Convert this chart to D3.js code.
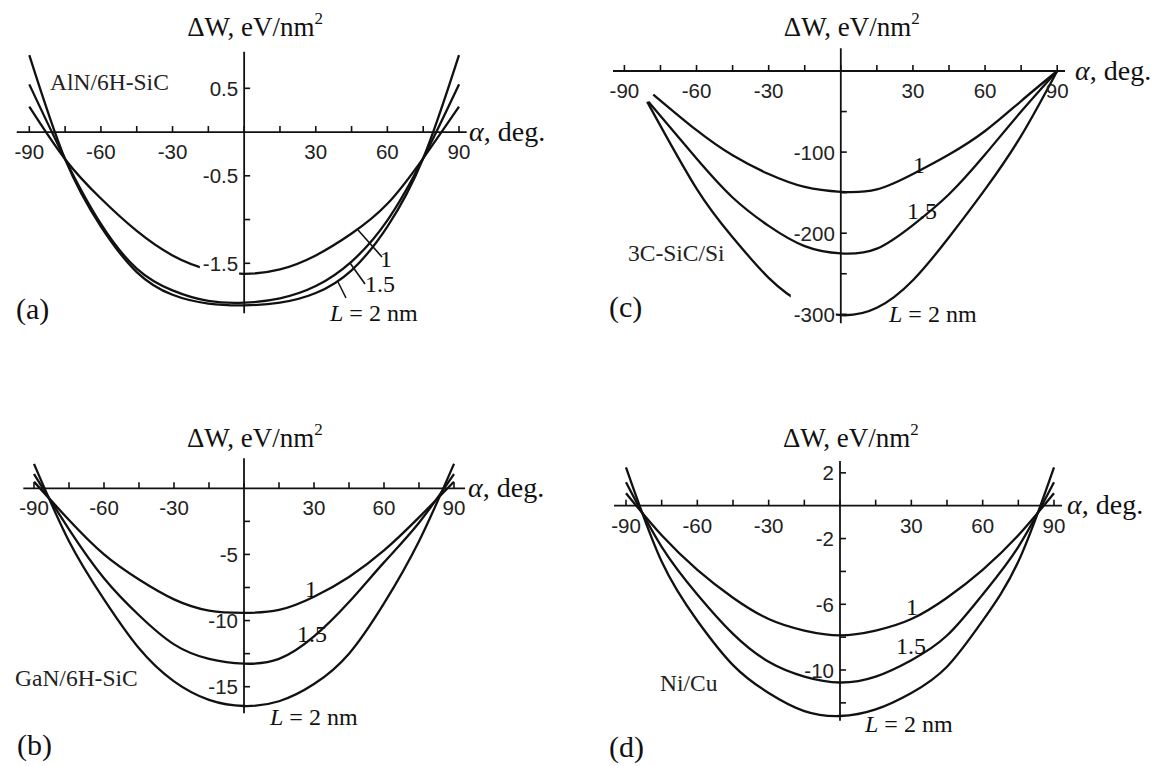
<!DOCTYPE html>
<html><head><meta charset="utf-8">
<script src="https://cdn.jsdelivr.net/npm/d3@7"></script>
<style>
body{margin:0;background:#fff}
svg{display:block}
</style></head><body>
<svg id="chart" width="1160" height="766"></svg>
<script>
// ---------------- data ----------------
const alpha = [-90,-75,-60,-45,-30,-15,0,15,30,45,60,75,90];
const xTickValues = [-90,-75,-60,-45,-30,-15,0,15,30,45,60,75,90];
const xTickLabels = [-90,-60,-30,30,60,90];

// (a) AlN/6H-SiC
const aL1  = [0.29,-0.31,-0.76,-1.13,-1.41,-1.57,-1.62,-1.57,-1.41,-1.16,-0.82,-0.30,0.29];
const aL15 = [0.545,-0.31,-1.05,-1.56,-1.81,-1.93,-1.95,-1.90,-1.76,-1.48,-1.01,-0.30,0.545];
const aL2  = [0.88,-0.31,-1.08,-1.60,-1.86,-1.96,-1.98,-1.95,-1.84,-1.58,-1.08,-0.30,0.88];
const aYTicks  = [0.5,-0.5,-1,-1.5];
const aYLabels = [0.5,-0.5,-1.5];

// (b) GaN/6H-SiC
const bL1  = [0.5,-2.4,-5.0,-6.9,-8.4,-9.25,-9.42,-9.2,-8.2,-6.7,-4.7,-2.2,0.5];
const bL15 = [1.08,-3.1,-6.8,-9.6,-11.8,-12.9,-13.26,-12.9,-11.2,-8.6,-5.6,-2.6,1.08];
const bL2  = [1.85,-4.0,-8.4,-12.1,-14.6,-16.0,-16.46,-16.1,-14.8,-12.5,-8.7,-4.0,1.85];
const bYTicks  = [-2.5,-5,-7.5,-10,-12.5,-15];
const bYLabels = [-5,-10,-15];

// (c) 3C-SiC/Si
const cA1  = [-78,-60,-45,-30,-15,0,15,30,45,60,75,90];
const cL1  = [-29,-73,-104,-127,-143,-149,-146,-127,-103,-74,-37,0];
const cA15 = [-80,-60,-45,-30,-15,0,15,30,45,60,75,90];
const cL15 = [-38,-108,-156,-191,-216,-225,-219,-190,-152,-103,-50,0];
const cA2  = [-80.5,-60,-45,-30,-15,0,15,30,45,60,75,90];
const cL2  = [-38,-145,-205,-255,-288,-301,-292,-258,-205,-146,-80,0];
const cYTicks  = [-50,-100,-150,-200,-250,-300];
const cYLabels = [-100,-200,-300];

// (d) Ni/Cu
const dL1  = [0.76,-1.8,-3.9,-5.6,-6.9,-7.6,-7.89,-7.6,-6.9,-5.6,-3.9,-1.8,0.76];
const dL15 = [1.43,-2.5,-5.4,-7.8,-9.5,-10.4,-10.76,-10.4,-9.4,-7.9,-5.4,-2.5,1.43];
const dL2  = [2.33,-3.4,-7.0,-9.7,-11.4,-12.5,-12.8,-12.4,-11.4,-9.8,-7.0,-3.4,2.33];
const dYTicks  = [2,-2,-4,-6,-8,-10,-12];
const dYLabels = [2,-2,-6,-10];

// ---------------- layout ----------------
const SERIF = "'Liberation Serif','Times New Roman',serif";
const SANS  = "'Liberation Sans',Arial,Helvetica,sans-serif";

const panels = [
  { letter:"(a)", material:"AlN/6H-SiC",
    series:[[alpha,aL1],[alpha,aL15],[alpha,aL2]],
    yTicks:aYTicks, yLabels:aYLabels, bgLabels:[-1.5],
    xRange:[29.3,459], yDomain:[0.5,-1.5], yRange:[88.3,263.3],
    xAxisExt:[16.7,466.7], yAxisExt:[51.7,313.3],
    titleY:36, alphaLbl:[469,141], matPos:[50,90], letterPos:[16,319],
    lbl1:[380,267], lbl15:[365,292], lblL:[330,321],
    leaders:[[358,230,382,257],[350,263,365,284],[338,282,346,298]] },
  { letter:"(b)", material:"GaN/6H-SiC",
    series:[[alpha,bL1],[alpha,bL15],[alpha,bL2]],
    yTicks:bYTicks, yLabels:bYLabels, bgLabels:[],
    xRange:[34,454], yDomain:[0,-15], yRange:[488.3,686.7],
    xAxisExt:[23.3,465], yAxisExt:[458.3,713.3],
    titleY:446.7, alphaLbl:[468,497], matPos:[15,686], letterPos:[17,755],
    lbl1:[305,597], lbl15:[297,642], lblL:[270,725], leaders:[] },
  { letter:"(c)", material:"3C-SiC/Si",
    series:[[cA1,cL1],[cA15,cL15],[cA2,cL2]],
    yTicks:cYTicks, yLabels:cYLabels, bgLabels:[-300],
    xRange:[624.4,1057.2], yDomain:[0,-300], yRange:[71,314.3],
    xAxisExt:[613,1065], yAxisExt:[48.3,323.3],
    titleY:36, alphaLbl:[1075,80], matPos:[628,261], letterPos:[609,317],
    lbl1:[913,173], lbl15:[907,219], lblL:[889,322], leaders:[] },
  { letter:"(d)", material:"Ni/Cu",
    series:[[alpha,dL1],[alpha,dL15],[alpha,dL2]],
    yTicks:dYTicks, yLabels:dYLabels, bgLabels:[],
    xRange:[626,1054], yDomain:[0,-10], yRange:[505.7,670],
    xAxisExt:[614,1062], yAxisExt:[461,720.7],
    titleY:446.7, alphaLbl:[1067,514], matPos:[660,691], letterPos:[609,757],
    lbl1:[906,615], lbl15:[896,654], lblL:[865,732], leaders:[] }
];

const svg = d3.select("#chart");
svg.append("rect").attr("width",1160).attr("height",766).attr("fill","#fff");

panels.forEach(p => {
  const g = svg.append("g");
  const x = d3.scaleLinear().domain([-90,90]).range(p.xRange);
  const y = d3.scaleLinear().domain(p.yDomain).range(p.yRange);
  const x0 = x(0), y0 = y(0);

  // curves
  const line = d3.line().x(d=>x(d[0])).y(d=>y(d[1])).curve(d3.curveNatural);
  p.series.forEach(([as,vs]) => {
    g.append("path").datum(as.map((a,i)=>[a,vs[i]]))
      .attr("d",line).attr("fill","none").attr("stroke","#111")
      .attr("stroke-width",2.3).attr("stroke-linejoin","round");
  });

  // axes lines
  g.append("line").attr("x1",p.xAxisExt[0]).attr("x2",p.xAxisExt[1])
    .attr("y1",y0).attr("y2",y0).attr("stroke","#111").attr("stroke-width",1.8);
  g.append("line").attr("x1",x0).attr("x2",x0)
    .attr("y1",p.yAxisExt[0]).attr("y2",p.yAxisExt[1]).attr("stroke","#111").attr("stroke-width",1.8);

  // x ticks (above axis)
  g.selectAll(null).data(xTickValues).enter().append("line")
    .attr("x1",d=>x(d)).attr("x2",d=>x(d)).attr("y1",y0).attr("y2",y0-6)
    .attr("stroke","#111").attr("stroke-width",1.6);
  g.selectAll(null).data(xTickLabels).enter().append("text")
    .attr("x",d=>x(d)).attr("y",y0+27).attr("text-anchor","middle")
    .attr("font-family",SANS).attr("font-size",20.5).attr("fill","#222")
    .text(d=>String(d));

  // y ticks (right of axis)
  g.selectAll(null).data(p.yTicks).enter().append("line")
    .attr("x1",x0).attr("x2",x0+6).attr("y1",d=>y(d)).attr("y2",d=>y(d))
    .attr("stroke","#111").attr("stroke-width",1.6);
  p.yLabels.forEach(v => {
    const t = g.append("text").attr("x",x0-6).attr("y",y(v)+7.5)
      .attr("text-anchor","end").attr("font-family",SANS).attr("font-size",20.5)
      .attr("fill","#222").text(String(v));
    if (p.bgLabels.includes(v)) {
      const bb = t.node().getBBox();
      g.insert("rect", function(){ return t.node(); })
        .attr("x",bb.x-3).attr("y",bb.y-8).attr("width",bb.width+4).attr("height",bb.height+10)
        .attr("fill","#fff");
    }
  });

  // title
  const title = g.append("text").attr("x",x0-57).attr("y",p.titleY)
    .attr("font-family",SERIF).attr("font-size",27).attr("fill","#111");
  title.append("tspan").text("\u0394W, eV/nm");
  title.append("tspan").attr("dy",-12).attr("font-size",17).text("2");

  // alpha label
  const al = g.append("text").attr("x",p.alphaLbl[0]).attr("y",p.alphaLbl[1])
    .attr("font-family",SERIF).attr("font-size",28).attr("fill","#111");
  al.append("tspan").attr("font-style","italic").text("\u03B1");
  al.append("tspan").text(", deg.");

  // material and panel letter
  g.append("text").attr("x",p.matPos[0]).attr("y",p.matPos[1])
    .attr("font-family",SERIF).attr("font-size",23.5).attr("fill","#222").text(p.material);
  g.append("text").attr("x",p.letterPos[0]).attr("y",p.letterPos[1])
    .attr("font-family",SERIF).attr("font-size",30).attr("fill","#111").text(p.letter);

  // curve labels
  g.append("text").attr("x",p.lbl1[0]).attr("y",p.lbl1[1])
    .attr("font-family",SERIF).attr("font-size",24).attr("fill","#111").text("1");
  g.append("text").attr("x",p.lbl15[0]).attr("y",p.lbl15[1])
    .attr("font-family",SERIF).attr("font-size",24).attr("fill","#111").text("1.5");
  const lt = g.append("text").attr("x",p.lblL[0]).attr("y",p.lblL[1])
    .attr("font-family",SERIF).attr("font-size",24).attr("fill","#111");
  lt.append("tspan").attr("font-style","italic").text("L");
  lt.append("tspan").text(" = 2 nm");

  p.leaders.forEach(l => {
    g.append("line").attr("x1",l[0]).attr("y1",l[1]).attr("x2",l[2]).attr("y2",l[3])
      .attr("stroke","#111").attr("stroke-width",1.6);
  });
});
</script>
</body></html>
